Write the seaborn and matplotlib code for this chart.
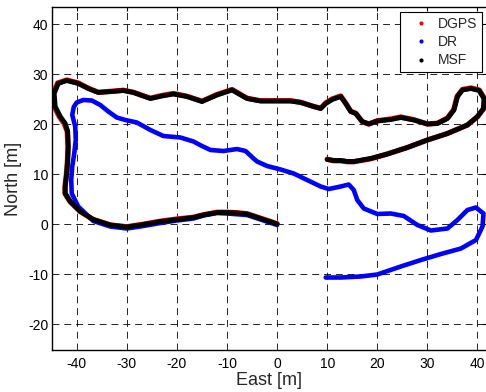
import numpy as np
import pandas as pd
import matplotlib
matplotlib.use("Agg")
import matplotlib.pyplot as plt
from matplotlib.lines import Line2D
import seaborn as sns

# ---- data (East [m], North [m]) ----
msf_pts = [(0, 0), (-3.3, 1.1), (-6, 2), (-8, 2.2), (-10, 2.3), (-12, 2.3), (-14.7, 1.8),
           (-16.7, 1.3), (-20, 0.9), (-23.3, 0.5), (-26.7, -0.1), (-30, -0.6), (-33.3, -0.2),
           (-36.7, 0.9), (-39.3, 2.5), (-41.3, 4.5), (-42.3, 6.1), (-42.3, 7.5), (-42, 10.1),
           (-41.8, 12.8), (-41.7, 15.5), (-41.8, 18.5), (-42.3, 20.1), (-43.3, 21.5),
           (-44.3, 23.5), (-44.5, 26.1), (-43.7, 28.1), (-42, 28.7), (-39.7, 28.1),
           (-37.7, 27.1), (-35.7, 26.3), (-33, 26.5), (-30.7, 26.7), (-28.7, 26.3),
           (-25.3, 25.1), (-23, 25.6), (-20.7, 26), (-18, 25.5), (-15, 24.5), (-12, 25.8),
           (-9, 26.8), (-6, 25.1), (-3.3, 24.6), (0, 24.6), (2.7, 24.6), (4.7, 24.3),
           (7.3, 23.5), (8.7, 23.1), (9.7, 24.1), (11, 24.9), (12.7, 25.5), (13.7, 24.1),
           (14.7, 22.5), (15.7, 22.1), (17, 20.5), (18.3, 20), (20, 20.6), (22.7, 20.9),
           (24.7, 21.3), (27.3, 20.8), (30, 20), (32, 20.1), (34, 21.1), (35.3, 22.8),
           (36, 25.5), (37, 26.8), (38.7, 27.1), (40.3, 26.7), (41.3, 25.1), (41.2, 23.1),
           (40, 21.5), (38, 19.8), (34, 18.1), (30, 16.8), (26, 15.3), (22, 14), (18.7, 13.1),
           (15.3, 12.5), (14, 12.5), (12.7, 12.7), (11.3, 12.7), (10, 12.9)]

dgps_pts = [(0, 0.05), (-3.3, 1.15), (-6, 2.05), (-8, 2.25), (-10, 2.35), (-12, 2.35), (-14.7, 1.85),
            (-16.7, 1.35), (-20, 1.0), (-23.3, 0.55), (-26.7, -0.05), (-30, -0.55), (-33.3, -0.2),
            (-36.7, 0.9), (-39.3, 2.5), (-41.35, 4.5), (-42.35, 6.1), (-42.35, 7.5), (-42.05, 10.1),
            (-41.85, 12.8), (-41.75, 15.5), (-41.9, 18.5), (-42.5, 20.1), (-43.5, 21.5),
            (-44.5, 23.5), (-44.7, 26.1), (-43.8, 28.2), (-42, 28.8), (-39.7, 28.2),
            (-37.7, 27.15), (-35.7, 26.35), (-33, 26.55), (-30.7, 26.75), (-28.7, 26.35),
            (-25.3, 25.15), (-23, 25.7), (-20.7, 26.1), (-18, 25.55), (-15, 24.55), (-12, 25.9),
            (-9, 26.9), (-6, 25.15), (-3.3, 24.65), (0, 24.65), (2.7, 24.65), (4.7, 24.35),
            (7.3, 23.5), (8.7, 23.15), (9.7, 24.2), (11, 25.0), (12.7, 25.6), (13.7, 24.15),
            (14.7, 22.55), (15.7, 22.15), (17, 20.45), (18.3, 20), (20, 20.65), (22.7, 21.0),
            (24.7, 21.4), (27.3, 20.85), (30, 20), (32, 20.15), (34, 21.2), (35.25, 22.85),
            (35.95, 25.55), (37, 26.9), (38.7, 27.2), (40.35, 26.8), (41.4, 25.1), (41.25, 23.1),
            (40, 21.45), (38, 19.8), (34, 18.1), (30, 16.8), (26, 15.3), (22, 14), (18.7, 13.05),
            (15.3, 12.45), (14, 12.45), (12.7, 12.65), (11.3, 12.65), (10, 12.95)]

dr_pts = [(0, -0.2), (-3.3, 0.9), (-6, 1.8), (-10, 2.1), (-12, 2.2), (-14.7, 1.7), (-16.7, 1.1),
          (-20, 0.7), (-23.3, 0.2), (-26.7, -0.4), (-30, -0.9), (-33.3, -0.5), (-36.7, 0.6),
          (-39.7, 3.5), (-41, 6.1), (-41.1, 8.8), (-40.9, 11.5), (-40.5, 14.1), (-40.2, 16.8),
          (-40.3, 19.5), (-40.9, 21.8), (-40.6, 23.4), (-40, 24.3), (-38.7, 24.8), (-37, 24.7),
          (-35.3, 23.8), (-33.7, 22.5), (-32, 21.3), (-30.3, 20.8), (-28, 20.3), (-25.3, 18.8),
          (-22.7, 17.6), (-19.3, 17.3), (-16.7, 16.5), (-15, 15.6), (-13.3, 14.8),
          (-10.7, 14.6), (-8, 15), (-6.3, 14.6), (-4.7, 13.1), (-4, 12.5), (-2, 11.6),
          (0.7, 10.9), (3.3, 10.1), (6, 8.8), (8.7, 7.5), (10.3, 7), (12.7, 7.5), (14.3, 7.9),
          (15.3, 6.8), (16, 4.8), (17.3, 3.1), (20, 2), (22.7, 2.1), (25.3, 1.6), (28, -0.2),
          (30.7, -1.3), (34, -0.9), (36, 0.8), (38, 2.8), (39.7, 3.3), (41.2, 2.1), (41, -0.5),
          (39.7, -3.2), (36.7, -4.9), (32.7, -6), (28.7, -7.2), (24.7, -8.5), (20, -10.1),
          (16.7, -10.5), (12.7, -10.7), (9.7, -10.7)]

series_names = ["DGPS", "DR", "MSF"]
series_colors = ["#ff0000", "#0000ff", "#000000"]
x_ticks = [-40, -30, -20, -10, 0, 10, 20, 30, 40]
y_ticks = [-20, -10, 0, 10, 20, 30, 40]

# ---- style ----
sns.set_theme(style="white")
plt.rcParams["font.family"] = ["Liberation Sans", "DejaVu Sans"]
plt.rcParams["lines.scale_dashes"] = False

fig = plt.figure(figsize=(4.86, 3.92), dpi=100)
ax = fig.add_axes([51.7 / 486, (392 - 349.7) / 392, (486 - 51.7) / 486, (349.7 - 7.3) / 392])

def to_df(pts, name):
    xs, ys = zip(*pts)
    return pd.DataFrame({"East": xs, "North": ys, "order": np.arange(len(xs)), "src": name})

widths = {"DGPS": 3.8, "DR": 3.3, "MSF": 3.5}
for pts, name, col in zip([dgps_pts, dr_pts, msf_pts], series_names, series_colors):
    df = to_df(pts, name)
    sns.lineplot(data=df, x="East", y="North", sort=False, estimator=None, color=col,
                 linewidth=widths[name], ax=ax, legend=False,
                 solid_capstyle="round", solid_joinstyle="round")

ax.set_xlim(-45, 41.7)
ax.set_ylim(-25.14, 43.34)
ax.set_xticks(x_ticks)
ax.set_yticks(y_ticks)
ax.set_xticklabels([str(t) for t in x_ticks])
ax.set_yticklabels([str(t) for t in y_ticks])

ax.grid(True, color="black", linestyle=(0, (5, 3.5)), linewidth=0.6)
ax.set_axisbelow(True)

for s in ["left", "bottom", "top"]:
    ax.spines[s].set_visible(True)
    ax.spines[s].set_color("black")
    ax.spines[s].set_linewidth(1.0)
ax.spines["right"].set_visible(False)

ax.tick_params(axis="both", direction="in", length=3, width=0.8, colors="black",
               labelsize=10, top=True, right=True, labeltop=False, labelright=False)
ax.tick_params(axis="x", pad=5)
ax.tick_params(axis="y", pad=2.5)

ax.set_xlabel("East [m]", fontsize=13, labelpad=1)
ax.set_ylabel("North [m]", fontsize=13, labelpad=4)

handles = [Line2D([], [], linestyle="none", marker="o", markersize=3, color=c,
                  markeredgewidth=0) for c in series_colors]
leg = ax.legend(handles, series_names, loc="upper right",
                bbox_to_anchor=(482 / 486, 1 - 12.3 / 392), bbox_transform=fig.transFigure,
                borderaxespad=0, fontsize=10, frameon=True, fancybox=False,
                framealpha=1, edgecolor="black", borderpad=0.35, labelspacing=0.3,
                handlelength=2.27, handletextpad=0.1)
leg.get_frame().set_linewidth(0.8)

fig.savefig("out.png", dpi=100)
